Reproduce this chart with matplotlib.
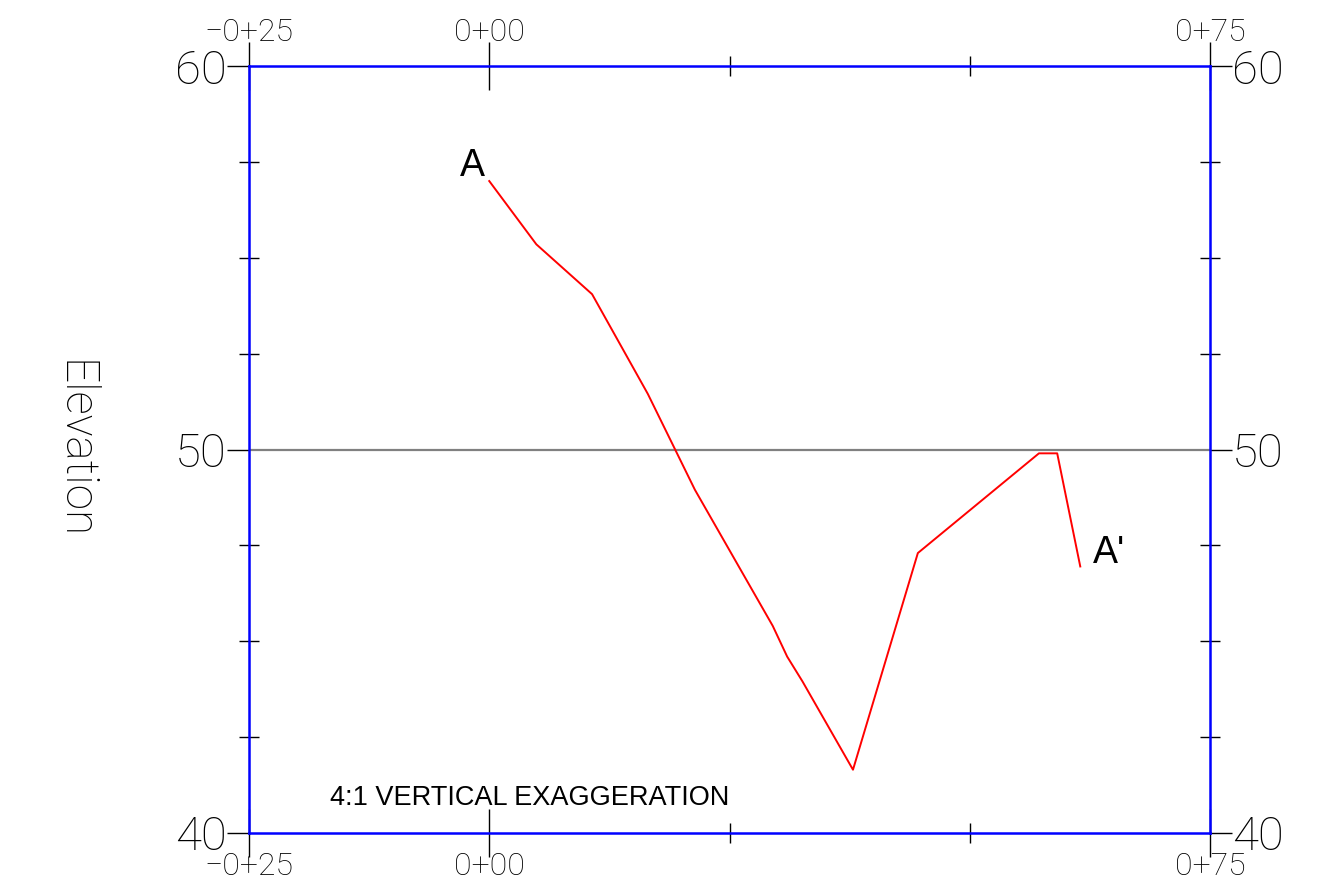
import matplotlib
matplotlib.use("Agg")
import matplotlib.pyplot as plt
from matplotlib.ticker import FixedLocator, FixedFormatter

# station (ft from 0+00) and elevation of the section line
station = [0.0, 4.9, 10.7, 16.5, 21.4, 29.5, 31.0, 32.6, 37.85, 44.6, 57.2, 59.1, 61.5]
elev = [57.0, 55.35, 54.05, 51.45, 48.95, 45.4, 44.6, 43.95, 41.65, 47.3, 49.9, 49.9, 46.95]

x_major = [-25, 0, 75]
x_major_labels = ["\u22120+25", "0+00", "0+75"]
x_minor = [25, 50]
y_major = [40, 50, 60]
y_minor = [42.5, 45, 47.5, 52.5, 55, 57.5]

thin = {"family": ["Roboto", "DejaVu Sans"], "weight": "light"}

fig = plt.figure(figsize=(13.29, 8.89), dpi=100)
ax = fig.add_axes([249 / 1329, 1 - 833 / 889, 961 / 1329, 767 / 889])

ax.axhline(50, color="#808080", lw=1.6, zorder=1)
ax.plot(station, elev, color="red", lw=1.4, zorder=3)

ax.set_xlim(-25, 75)
ax.set_ylim(40, 60)

for s in ax.spines.values():
    s.set_color("#0000ff")
    s.set_linewidth(1.8)

ax.xaxis.set_major_locator(FixedLocator(x_major))
ax.xaxis.set_major_formatter(FixedFormatter(x_major_labels))
ax.xaxis.set_minor_locator(FixedLocator(x_minor))
ax.yaxis.set_major_locator(FixedLocator(y_major))
ax.yaxis.set_minor_locator(FixedLocator(y_minor))

ax.tick_params(axis="x", which="major", direction="inout", length=34.5, width=1,
               top=True, bottom=True, labeltop=True, labelbottom=True, pad=-3.5)
ax.tick_params(axis="x", which="minor", direction="inout", length=14.4, width=1,
               top=True, bottom=True)
ax.tick_params(axis="y", which="major", direction="out", length=16, width=1,
               left=True, right=True, labelleft=True, labelright=True, pad=0)
ax.tick_params(axis="y", which="minor", direction="inout", length=14.4, width=1,
               left=True, right=True)

for lab in ax.get_xticklabels():
    lab.set_fontsize(23)
    lab.set_fontfamily(thin["family"])
    lab.set_fontweight(thin["weight"])
for lab in ax.get_yticklabels():
    lab.set_fontsize(34)
    lab.set_fontfamily(thin["family"])
    lab.set_fontweight(thin["weight"])

fig.text(74 / 1329, 1 - 450 / 889, "Elevation", rotation=270, ha="center", va="center",
         fontsize=33, family=thin["family"], weight=thin["weight"])

ax.text(station[0] - 1.7, elev[0] + 0.4, "A", ha="center", va="center",
        fontsize=27, family=["Liberation Sans", "DejaVu Sans"])
ax.text(station[-1] + 3.0, elev[-1] + 0.35, "A'", ha="center", va="center",
        fontsize=27, family=["Liberation Sans", "DejaVu Sans"])
ax.text(-16.6, 40.9, "4:1 VERTICAL EXAGGERATION", ha="left", va="center",
        fontsize=19.5, family=["Liberation Sans", "DejaVu Sans"])

fig.savefig("out.png", dpi=100)
